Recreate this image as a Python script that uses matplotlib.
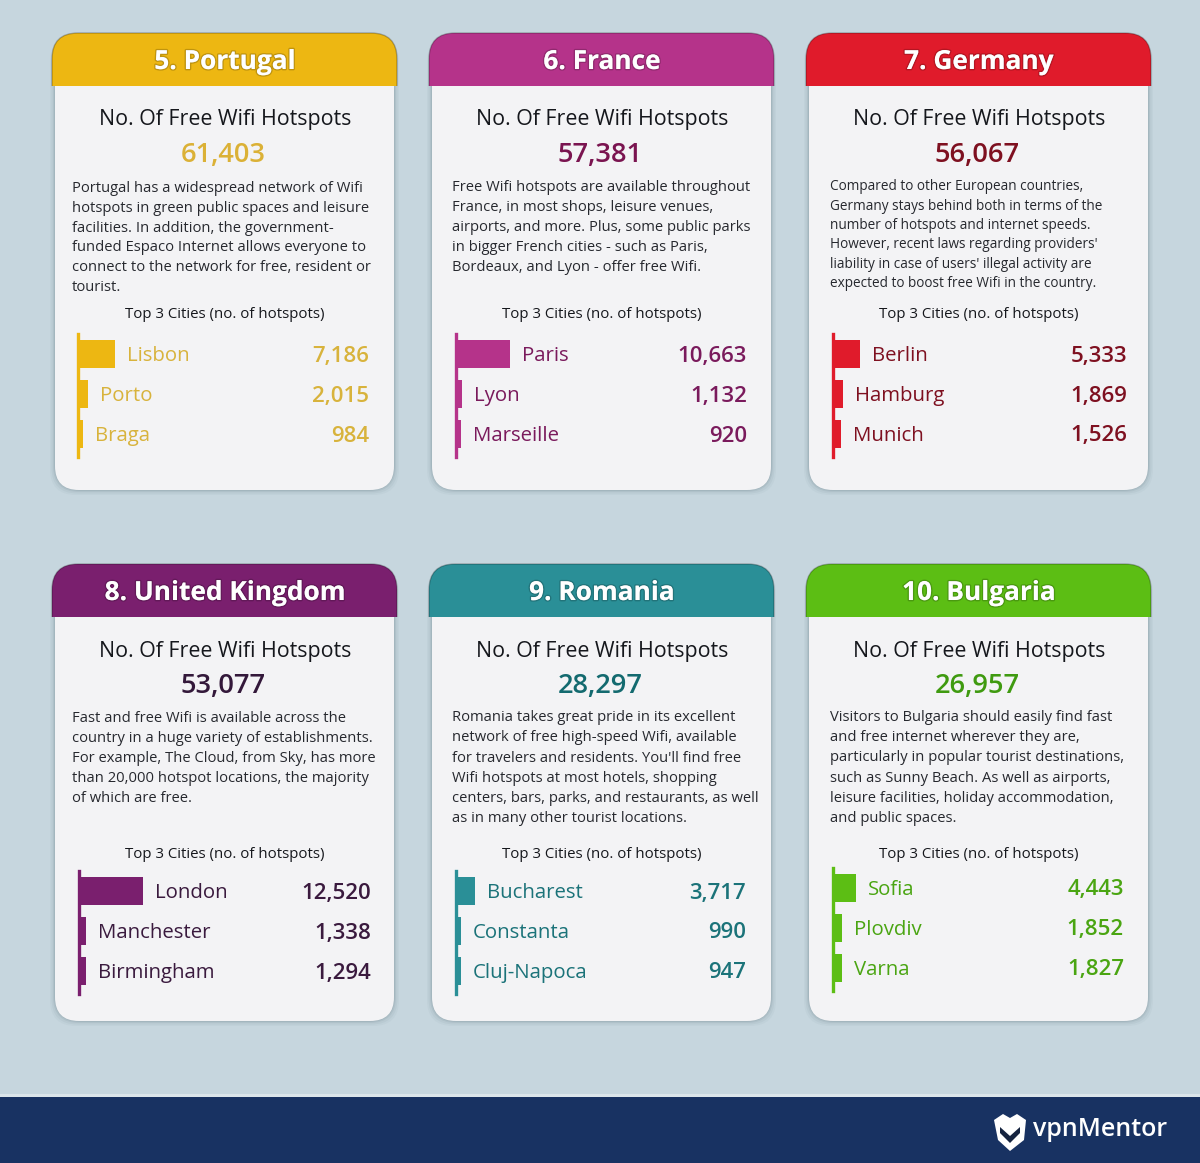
import matplotlib
matplotlib.use('Agg')
import matplotlib.pyplot as plt
import matplotlib.patheffects as pe
from matplotlib.patches import FancyBboxPatch, Rectangle, Polygon

plt.rcParams['font.family'] = ['Open Sans', 'DejaVu Sans']

W, H = 1200, 1163
BG = '#c6d6de'
NAVY = '#183262'
PX_PER_HOTSPOT = 0.0051  # bar length scale

titles = ['5. Portugal', '6. France', '7. Germany',
          '8. United Kingdom', '9. Romania', '10. Bulgaria']
totals = ['61,403', '57,381', '56,067', '53,077', '28,297', '26,957']
cities = [['Lisbon', 'Porto', 'Braga'],
          ['Paris', 'Lyon', 'Marseille'],
          ['Berlin', 'Hamburg', 'Munich'],
          ['London', 'Manchester', 'Birmingham'],
          ['Bucharest', 'Constanta', 'Cluj-Napoca'],
          ['Sofia', 'Plovdiv', 'Varna']]
hotspots = [[7186, 2015, 984],
            [10663, 1132, 920],
            [5333, 1869, 1526],
            [12520, 1338, 1294],
            [3717, 990, 947],
            [4443, 1852, 1827]]
blurbs = [
    ['Portugal has a widespread network of Wifi',
     'hotspots in green public spaces and leisure',
     'facilities. In addition, the government-',
     'funded Espaco Internet allows everyone to',
     'connect to the network for free, resident or',
     'tourist.'],
    ['Free Wifi hotspots are available throughout',
     'France, in most shops, leisure venues,',
     'airports, and more. Plus, some public parks',
     'in bigger French cities - such as Paris,',
     'Bordeaux, and Lyon - offer free Wifi.'],
    ['Compared to other European countries,',
     'Germany stays behind both in terms of the',
     'number of hotspots and internet speeds.',
     "However, recent laws regarding providers'",
     "liability in case of users' illegal activity are",
     'expected to boost free Wifi in the country.'],
    ['Fast and free Wifi is available across the',
     'country in a huge variety of establishments.',
     'For example, The Cloud, from Sky, has more',
     'than 20,000 hotspot locations, the majority',
     'of which are free.'],
    ['Romania takes great pride in its excellent',
     'network of free high-speed Wifi, available',
     "for travelers and residents. You'll find free",
     'Wifi hotspots at most hotels, shopping',
     'centers, bars, parks, and restaurants, as well',
     'as in many other tourist locations.'],
    ['Visitors to Bulgaria should easily find fast',
     'and free internet wherever they are,',
     'particularly in popular tourist destinations,',
     'such as Sunny Beach. As well as airports,',
     'leisure facilities, holiday accommodation,',
     'and public spaces.'],
]
header_colors = ['#edb712', '#b5338a', '#e01b2b', '#7a1f6e', '#2a8f97', '#5cbe14']
total_colors = ['#dbb136', '#7a1450', '#7e1020', '#33183a', '#136a6f', '#3f9a10']
label_colors = ['#d8b33c', '#7a1a5c', '#7e1020', '#3a1a3e', '#1b7379', '#4aa512']

card_left = [52, 429, 806, 52, 429, 806]
card_top = [33, 33, 33, 564, 564, 564]
axis_x = [78, 456, 833, 79, 456, 833]
axis_top = [334, 334, 334, 871, 871, 868]
blurb_x = [72, 452, 830, 72, 452, 830]
blurb_y = [188.5, 187.5, 187, 719, 717.5, 717.5]
blurb_step = [19.8, 20, 19.3, 20, 20.3, 20.2]
blurb_size = [10.65, 10.65, 9.8, 10.65, 10.65, 10.65]
value_x = [369, 747, 1127, 371, 746, 1124]
cities_y = [315, 315, 315, 854, 854, 854]

fig = plt.figure(figsize=(W / 100, H / 100), dpi=100, facecolor=BG)
page = fig.add_axes([0, 0, 1, 1])
page.set_xlim(0, W)
page.set_ylim(H, 0)
page.axis('off')


def add_card(i):
    x0, y0 = card_left[i], card_top[i]
    # soft shadow, stacked outlines
    for grow, alpha in [(5, 0.05), (3.5, 0.07), (2, 0.1), (1, 0.14)]:
        page.add_patch(FancyBboxPatch((x0 + 3 - grow, y0 + 8 - grow), 339 + 2 * grow, 449 + 2 * grow,
                                      boxstyle='round,pad=0,rounding_size=26',
                                      fc='#5f7480', ec='none', alpha=alpha, zorder=1))
    page.add_patch(FancyBboxPatch((x0 + 3, y0 + 8), 339, 449,
                                  boxstyle='round,pad=0,rounding_size=24',
                                  fc='#f3f3f5', ec='none', zorder=2))
    head = FancyBboxPatch((x0, y0), 345, 90, boxstyle='round,pad=0,rounding_size=26',
                          fc=header_colors[i], ec='#00000040', lw=1, zorder=3)
    page.add_patch(head)
    head.set_clip_path(Rectangle((x0 - 2, y0 - 2), 349, 55, transform=page.transData))
    page.text(x0 + 173, y0 + 28.5, titles[i], ha='center', va='center', color='white',
              fontsize=18.9, fontweight='bold', zorder=4,
              path_effects=[pe.withStroke(linewidth=2, foreground='#00000030')])
    page.text(x0 + 173, y0 + 87, 'No. Of Free Wifi Hotspots', ha='center', va='center',
              color='#15171c', fontsize=15.4, zorder=4)
    page.text(x0 + 171, y0 + 122, totals[i], ha='center', va='center',
              color=total_colors[i], fontsize=19.6, fontweight='semibold', zorder=4)
    for n, line in enumerate(blurbs[i]):
        page.text(blurb_x[i], blurb_y[i] + n * blurb_step[i], line, ha='left', va='center',
                  color='#26282e', fontsize=blurb_size[i], zorder=4)
    page.text(x0 + 173, cities_y[i], 'Top 3 Cities (no. of hotspots)', ha='center', va='center',
              color='#15171c', fontsize=10.8, zorder=4)


def add_bars(i):
    # each bar panel sits over the card, 123 px tall, with the length scale shared
    top = axis_top[i]
    width_px = value_x[i] - axis_x[i]
    ax = fig.add_axes([axis_x[i] / W, 1 - (top + 123) / H, width_px / W, 123 / H])
    ax.patch.set_alpha(0)
    ax.set_xlim(0, width_px / PX_PER_HOTSPOT)
    ax.set_ylim(2.575, -0.5)
    ax.barh(range(3), hotspots[i], height=0.7, color=header_colors[i])
    for side in ['top', 'right', 'bottom']:
        ax.spines[side].set_visible(False)
    ax.spines['left'].set_color(header_colors[i])
    ax.spines['left'].set_linewidth(2.4)
    ax.set_xticks([])
    ax.set_yticks([])
    for n, (name, val) in enumerate(zip(cities[i], hotspots[i])):
        ax.annotate(name, xy=(val, n), xytext=(12, -2), textcoords='offset pixels',
                    ha='left', va='center', color=label_colors[i], fontsize=14.7)
        ax.annotate(f'{val:,}', xy=(1, n), xycoords=ax.get_yaxis_transform(),
                    xytext=(0, -2), textcoords='offset pixels', ha='right', va='center',
                    color=label_colors[i], fontsize=16, fontweight='semibold')


for i in range(len(titles)):
    add_card(i)
    add_bars(i)

# footer band with the logo
page.add_patch(Rectangle((0, 1094), W, 3, fc='#dbe5ea', ec='none', zorder=1))
page.add_patch(Rectangle((0, 1097), W, H - 1097, fc=NAVY, ec='none', zorder=2))
page.add_patch(Polygon([(994, 1120), (1003, 1114), (1010, 1118), (1017, 1114), (1026, 1120),
                        (1024, 1140), (1010, 1151), (998, 1140)],
                       fc='white', ec='none', zorder=3))
page.add_patch(Polygon([(1000, 1127), (1010, 1136), (1020, 1127), (1020, 1133), (1010, 1143), (1000, 1133)],
                       fc='#15233f', ec='none', zorder=4))
page.text(1033, 1130, 'vpnMentor', ha='left', va='center', color='white',
          fontsize=18, fontweight='semibold', zorder=4)

fig.savefig('out.png', dpi=100, facecolor=BG)
